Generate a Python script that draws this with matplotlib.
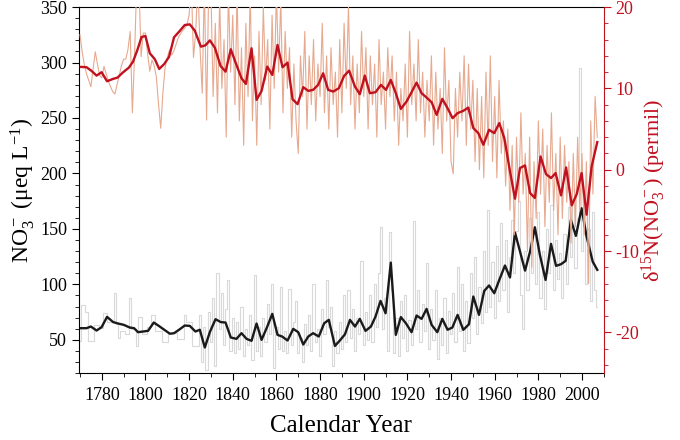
import matplotlib
matplotlib.use("Agg")
import matplotlib.pyplot as plt
import numpy as np
from matplotlib.ticker import MultipleLocator

plt.rcParams["font.family"] = ["Liberation Serif", "DejaVu Serif"]
plt.rcParams["mathtext.fontset"] = "custom"
plt.rcParams["mathtext.rm"] = "Liberation Serif"
plt.rcParams["mathtext.it"] = "Liberation Serif:italic"
plt.rcParams["axes.unicode_minus"] = False

RED = "#c0111f"
SALMON = "#e7a98f"
GREY = "#d9d9d9"

# annual nitrate concentration (grey), 1770-2007
no3_raw = [
    49, 81, 81, 75, 49, 49, 49, 63, 63, 61,          # 1770s
    61, 74, 74, 66, 66, 66, 92, 64, 52, 58,          # 1780s
    58, 55, 55, 88, 60, 60, 44, 71, 71, 55,          # 1790s
    55, 62, 62, 72, 72, 58, 58, 58, 48, 48,          # 1800s
    48, 56, 56, 56, 56, 51, 51, 51, 72, 66,          # 1810s
    66, 66, 44, 44, 44, 72, 30, 62, 23, 75,          # 1820s
    48, 88, 26, 110, 60, 92, 45, 78, 104, 40,        # 1830s
    70, 38, 66, 42, 80, 35, 60, 45, 72, 32,          # 1840s
    108, 40, 62, 35, 70, 48, 82, 55, 100, 25,        # 1850s
    62, 42, 98, 40, 58, 38, 96, 45, 66, 85,          # 1860s
    38, 52, 30, 64, 45, 72, 40, 100, 48, 60,         # 1870s
    35, 78, 55, 104, 62, 80, 26, 58, 38, 66,         # 1880s
    42, 90, 48, 95, 52, 78, 40, 70, 55, 121,         # 1890s
    45, 75, 50, 90, 48, 100, 62, 110, 152, 60,       # 1900s
    88, 40, 147, 95, 38, 70, 35, 85, 52, 90,         # 1910s
    40, 68, 45, 157, 60, 95, 48, 82, 58, 119,        # 1920s
    42, 78, 50, 95, 33, 70, 45, 88, 38, 76,          # 1930s
    55, 92, 48, 116, 58, 100, 40, 85, 47, 110,       # 1940s
    70, 125, 55, 98, 65, 130, 75, 167, 80, 120,      # 1950s
    70, 135, 85, 155, 95, 140, 75, 125, 158, 110,    # 1960s
    148, 175, 90, 60, 130, 95, 160, 110, 145, 100,   # 1970s
    165, 88, 130, 78, 150, 110, 172, 95, 140, 105,   # 1980s
    128, 88, 145, 100, 170, 125, 185, 115, 160, 295, # 1990s
    130, 175, 100, 150, 85, 165, 95, 80,             # 2000s
]

# annual d15N of nitrate (salmon), 1770-2007
d15n_raw = [
    16.6, 14.5, 12.9, 11.8, 11.0, 10.2, 12.4, 14.5, 13.0, 11.6,  # 1770s
    11.3, 12.7, 11.8, 10.9, 10.2, 9.6, 9.3, 10.5, 11.6, 12.8,    # 1780s
    13.6, 13.6, 14.8, 17.0, 7.0, 14.0, 23.0, 23.0, 13.9, 16.8,   # 1790s
    16.8, 14.2, 12.1, 13.5, 12.8, 11.4, 8.0, 5.1, 9.5, 12.6,     # 1800s
    13.8, 14.7, 14.1, 14.6, 15.4, 16.2, 16.7, 17.1, 17.4, 17.8,  # 1810s
    19.0, 23.0, 13.8, 16.8, 23.0, 15.0, 9.4, 23.0, 6.1, 23.0,    # 1820s
    22, 9, 18, 7, 21, 10, 16, 4, 22, 12,                         # 1830s
    19, 8, 22, 6, 15, 3, 18, 9, 22, 6,                           # 1840s
    14, 3, 17, 8, 20, 11, 16, 5, 19, 10,                         # 1850s
    22, 12, 21, 7, 17, 10, 15, 4, 13, 6,                         # 1860s
    2, 14, 9, 17, 5, 14, 8, 16, 6, 13,                           # 1870s
    9, 18, 7, 14, 5, 15, 8, 12, 4, 16,                           # 1880s
    7, 18, 10, 20, 8, 14, 5, 13, 7, 17,                          # 1890s
    9, 15, 5, 14, 8, 13, 4, 16, 8, 12,                           # 1900s
    5, 15, 9, 14, 6, 12, 3, 10, 6, 13,                           # 1910s
    4, 17, 8, 13, 6, 16, 7, 12, 4, 11,                           # 1920s
    6, 14, 3, 12, 5, 10, 2, 15, 6, 11,                           # 1930s
    1, -0.5, 10, 4, 12, 6, 14, 3, 13, 5,                         # 1940s
    11, 1, 10, 0, 9, -1, 12, 3, 14, 1,                           # 1950s
    9, -1, 11, 2, 6, -2, 5, -5, 3, -8,                           # 1960s
    4, -4, 7, -3, 2, -10, 4, -12, 1, -6,                         # 1970s
    6, -3, 5, -7, 3, -4, 7, -5, 2, -8,                           # 1980s
    4, -6, 3, -4, 1, -9, 2, -7, 4, -5,                           # 1990s
    2, -8, 1, -14, 6, -3, 9, 4,                                  # 2000s
]
raw_years = np.arange(1770, 1770 + len(no3_raw))

# smoothed nitrate (black)
no3_smooth_years = [
    1770.4, 1773.0, 1775.0, 1777.6, 1779.9, 1782.4, 1785.2, 1787.5, 1790.1, 1792.8,
    1794.8, 1796.6, 1798.9, 1801.2, 1803.8, 1806.1, 1808.6, 1811.2, 1813.1, 1815.4,
    1818.0, 1820.3, 1822.9, 1824.9, 1827.2, 1829.5, 1832.1, 1834.5, 1836.7, 1839.1,
    1841.7, 1844.0, 1846.3, 1848.6, 1850.9, 1853.2, 1855.5, 1858.1, 1860.5, 1862.6,
    1865.1, 1867.7, 1870.0, 1872.3, 1874.6, 1876.8, 1879.4, 1881.9, 1884.0, 1886.8,
    1889.1, 1891.4, 1893.7, 1896.0, 1898.2, 1900.8, 1903.3, 1905.4, 1907.7, 1910.0,
    1912.4, 1914.7, 1917.0, 1919.3, 1921.9, 1924.2, 1926.5, 1928.8, 1931.1, 1933.7,
    1936.0, 1938.4, 1940.6, 1943.0, 1945.6, 1948.2, 1950.2, 1952.8, 1955.2, 1957.4,
    1959.8, 1962.1, 1964.7, 1967.0, 1969.3, 1971.6, 1973.9, 1976.2, 1978.4, 1980.7,
    1983.3, 1985.8, 1988.1, 1990.4, 1992.5, 1994.9, 1997.2, 1999.8, 2002.1, 2004.9,
    2007.0,
]
no3_smooth = [
    60.5, 60.5, 62, 58.4, 61.4, 70.7, 66, 64.7, 63.5, 61.1,
    60.5, 56.9, 57.5, 58.1, 65.6, 62.6, 59.1, 55.5, 56, 59.1,
    62.9, 62.6, 57.5, 59.1, 43.1, 57, 68.6, 66, 65.6, 52.1,
    50.9, 56, 50.9, 49.1, 64.7, 50, 60.5, 73.4, 54.5, 53,
    49.4, 59.9, 56.9, 45.8, 53, 56, 53, 65, 68, 44.5,
    49.5, 55, 68, 62, 68.9, 58.1, 62, 71, 85.1, 74,
    119.6, 54.5, 70.5, 65, 56.9, 71.9, 68.9, 77.9, 63.5, 56.9,
    68.9, 59.1, 61.1, 72.5, 59, 64, 89, 72.5, 94.1, 99,
    92, 104, 117, 106.2, 146.7, 129.6, 112.4, 129.6, 151.5, 126.6,
    104, 136.5, 116.7, 118.2, 121.2, 158.1, 143.7, 168.6, 143.1, 120.5,
    113.1,
]

# smoothed d15N (dark red)
d15n_smooth_years = [
    1770.4, 1773.0, 1775.3, 1777.6, 1779.9, 1782.4, 1785.2, 1787.2, 1789.8, 1792.4,
    1794.3, 1796.3, 1798.2, 1800.0, 1802.0, 1804.3, 1806.3, 1808.6, 1810.8, 1813.1,
    1815.7, 1818.0, 1820.3, 1822.6, 1825.4, 1827.5, 1829.5, 1831.8, 1834.4, 1836.7,
    1839.1, 1841.4, 1844.0, 1846.0, 1848.6, 1850.9, 1853.2, 1855.8, 1858.1, 1860.5,
    1862.8, 1865.1, 1867.4, 1869.7, 1872.3, 1874.6, 1876.8, 1879.1, 1881.4, 1883.7,
    1886.0, 1888.6, 1891.0, 1893.3, 1896.0, 1898.2, 1900.5, 1902.8, 1905.4, 1907.9,
    1910.2, 1912.4, 1914.7, 1917.0, 1919.6, 1921.9, 1924.2, 1926.5, 1928.8, 1931.1,
    1933.4, 1936.0, 1938.4, 1940.7, 1943.0, 1945.6, 1947.9, 1950.2, 1952.5, 1954.8,
    1957.4, 1959.8, 1962.1, 1964.4, 1967.0, 1969.3, 1971.6, 1973.9, 1976.2, 1978.4,
    1981.0, 1983.5, 1985.8, 1987.9, 1990.4, 1992.7, 1995.3, 1997.6, 1999.8, 2002.1,
    2004.4, 2007.0,
]
d15n_smooth = [
    12.64, 12.6, 12.15, 11.57, 11.99, 10.88, 11.17, 11.33, 11.99, 12.55,
    13.29, 14.72, 16.32, 16.44, 14.32, 13.58, 12.39, 13.0, 13.87, 16.28,
    17.06, 17.79, 17.87, 17.1, 15.13, 15.3, 15.9, 15.0, 12.76, 12.06,
    14.81, 13.09, 11.25, 10.55, 14.93, 8.59, 9.69, 12.68, 11.66, 15.34,
    12.6, 13.17, 8.67, 8.06, 10.15, 9.69, 9.82, 10.43, 11.86, 9.82,
    9.61, 10.02, 11.53, 12.18, 10.22, 9.29, 11.57, 9.41, 9.53, 10.43,
    9.82, 11.04, 9.41, 7.48, 8.38, 9.53, 10.71, 9.41, 8.87, 8.3,
    6.75, 8.71, 7.57, 6.34, 6.96, 7.24, 7.64, 5.12, 4.5, 3.07,
    4.91, 4.5, 5.73, 3.89, -0.2, -3.56, 0.21, 0.53, -2.86, -3.47,
    1.63, -0.53, -1.02, -0.41, -3.15, 0.28, -4.38, -2.98, -0.41, -5.52,
    0.4, 3.4,
]


def main() -> None:
    fig = plt.figure(figsize=(6.8, 4.4), dpi=100)
    ax = fig.add_axes([0.116, 0.152, 0.772, 0.832])
    ax2 = ax.twinx()

    ax.plot(raw_years, no3_raw, color=GREY, lw=0.8, drawstyle="steps-mid")
    ax.plot(no3_smooth_years, no3_smooth, color="#1a1a1a", lw=1.7)

    ax2.plot(raw_years, d15n_raw, color=SALMON, lw=0.8)
    ax2.plot(d15n_smooth_years, d15n_smooth, color=RED, lw=1.7)

    ax.set_xlim(1769.5, 2010)
    ax.set_ylim(20, 350)
    ax2.set_ylim(-25, 20)

    ax.xaxis.set_major_locator(MultipleLocator(20))
    ax.xaxis.set_minor_locator(MultipleLocator(10))
    ax.yaxis.set_major_locator(MultipleLocator(50))
    ax.yaxis.set_minor_locator(MultipleLocator(10))
    ax2.yaxis.set_major_locator(MultipleLocator(10))
    ax2.yaxis.set_minor_locator(MultipleLocator(2))

    ax.tick_params(which="major", direction="out", length=5, width=0.8, labelsize=13)
    ax.tick_params(which="minor", direction="out", length=3, width=0.6)
    ax.tick_params(axis="x", pad=5)
    ax2.tick_params(which="major", direction="out", length=5, width=0.8,
                    colors=RED, labelsize=13)
    ax2.tick_params(which="minor", direction="out", length=3, width=0.6, colors=RED)

    ax2.spines["right"].set_color(RED)
    ax.spines["right"].set_visible(False)
    for side in ("left", "top", "bottom"):
        ax2.spines[side].set_visible(False)

    ax.set_xlabel("Calendar Year", fontsize=18, labelpad=8)
    ax.set_ylabel("NO$_3^-$ (μeq L$^{-1}$)", fontsize=17)
    ax.yaxis.set_label_coords(-0.08, 0.5)
    ax2.set_ylabel("δ$^{15}$N(NO$_3^-$) (permil)", fontsize=16, color=RED)
    ax2.yaxis.set_label_coords(1.068, 0.5)

    fig.savefig("out.png", dpi=100)


if __name__ == "__main__":
    main()
